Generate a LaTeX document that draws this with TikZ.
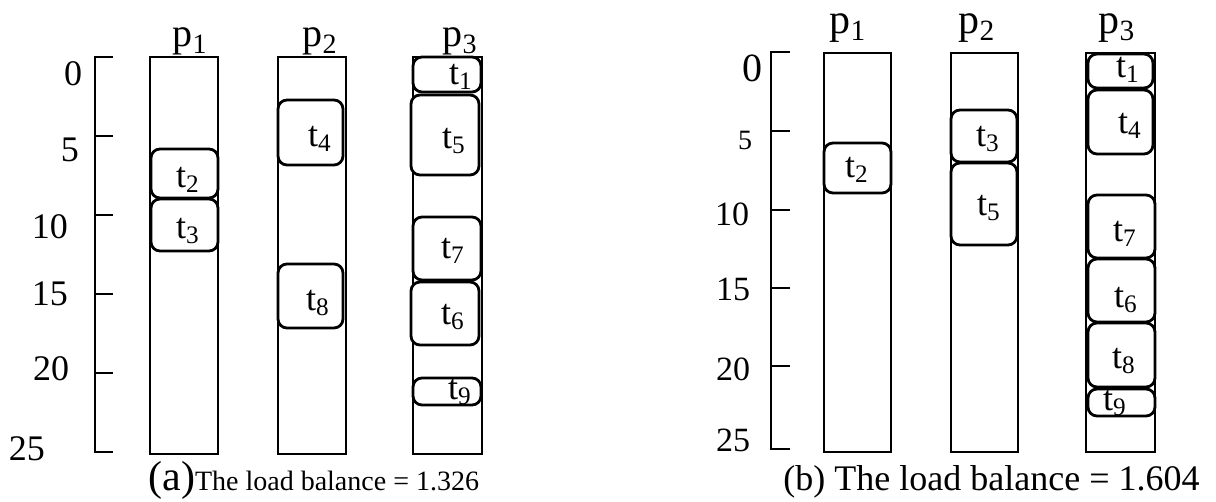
\documentclass[tikz,border=0pt]{standalone}
\usepackage{fontspec}
\setmainfont{Liberation Serif}
\usepackage{tikz}
\newcommand{\fsize}[1]{\fontsize{#1pt}{#1pt}\selectfont}

\begin{document}
\begin{tikzpicture}[
    x=0.5pt, y=-0.5pt,
    proc/.style={draw, line width=1.4pt},
    task/.style={draw, fill=white, line width=1.4pt, rounded corners=4.5pt},
    axis/.style={line width=1.4pt},
    tlab/.style={font=\fsize{18}, inner sep=0pt},
    plab/.style={anchor=base, inner sep=0pt},
    ylab/.style={inner sep=0pt}
]
\useasboundingbox (0,0) rectangle (1216,502);

% (a) time axis
\draw[axis] (113,57) -- (95,57) -- (95,452) -- (113,452);
\foreach \y in {136,215,294,373}
    \draw[axis] (95,\y) -- (113,\y);
\node[ylab, font=\fsize{18}] (a-y0) at (73,74) {0};
\node[ylab, font=\fsize{18}] (a-y5) at (70,150) {5};
\node[ylab, font=\fsize{18}] (a-y10) at (50,227) {10};
\node[ylab, font=\fsize{18}] (a-y15) at (50,294) {15};
\node[ylab, font=\fsize{18}] (a-y20) at (51,369) {20};
\node[ylab, font=\fsize{18}] (a-y25) at (27,449) {25};

% (a) processors
\draw[proc] (150,57) rectangle (218,454);
\draw[proc] (278,57) rectangle (346,454);
\draw[proc] (413,57) rectangle (482,454);
\node[plab, font=\fsize{20}] (a-p1) at (190,47) {p\textsubscript{1}};
\node[plab, font=\fsize{20}] (a-p2) at (320,47) {p\textsubscript{2}};
\node[plab, font=\fsize{20}] (a-p3) at (460,47) {p\textsubscript{3}};

% (a) tasks
\draw[task] (151,149) rectangle (218,198);
\node[tlab] (a-t2) at (188,180) {t\textsubscript{2}};
\draw[task] (151,199) rectangle (218,251);
\node[tlab] (a-t3) at (188,231) {t\textsubscript{3}};
\draw[task] (278,100) rectangle (343,165);
\node[tlab] (a-t4) at (320,139) {t\textsubscript{4}};
\draw[task] (278,264) rectangle (343,328);
\node[tlab] (a-t8) at (318,303) {t\textsubscript{8}};
\draw[task] (413,57) rectangle (481,92);
\node[tlab] (a-t1) at (461,77) {t\textsubscript{1}};
\draw[task] (411,95) rectangle (479,175);
\node[tlab] (a-t5) at (454,141) {t\textsubscript{5}};
\draw[task] (413,217) rectangle (481,280);
\node[tlab] (a-t7) at (453,251) {t\textsubscript{7}};
\draw[task] (411,282) rectangle (479,345);
\node[tlab] (a-t6) at (453,317) {t\textsubscript{6}};
\draw[task] (413,378) rectangle (481,405);
\node[tlab] (a-t9) at (460,392) {t\textsubscript{9}};

\node[anchor=base west, inner sep=0pt] (a-cap) at (148,490)
    {\fsize{21}(a)\fsize{14}The load balance = 1.326};

% (b) time axis
\draw[axis] (790,52) -- (771,52) -- (771,449) -- (790,449);
\foreach \y in {131,210,288,366}
    \draw[axis] (771,\y) -- (790,\y);
\node[ylab, font=\fsize{20}] (b-y0) at (752,68) {0};
\node[ylab, font=\fsize{14}] (b-y5) at (745,140) {5};
\node[ylab, font=\fsize{17}] (b-y10) at (732,214) {10};
\node[ylab, font=\fsize{17}] (b-y15) at (733,289) {15};
\node[ylab, font=\fsize{17}] (b-y20) at (733,369) {20};
\node[ylab, font=\fsize{17}] (b-y25) at (733,440) {25};

% (b) processors
\draw[proc] (824,53) rectangle (891,452);
\draw[proc] (951,53) rectangle (1018,452);
\draw[proc] (1086,53) rectangle (1155,452);
\node[plab, font=\fsize{21}] (b-p1) at (848,34) {p\textsubscript{1}};
\node[plab, font=\fsize{21}] (b-p2) at (977,34) {p\textsubscript{2}};
\node[plab, font=\fsize{21}] (b-p3) at (1117,34) {p\textsubscript{3}};

% (b) tasks
\draw[task] (824,143) rectangle (891,193);
\node[tlab] (b-t2) at (857,170) {t\textsubscript{2}};
\draw[task] (951,110) rectangle (1017,162);
\node[tlab] (b-t3) at (988,139) {t\textsubscript{3}};
\draw[task] (951,163) rectangle (1017,245);
\node[tlab] (b-t5) at (989,208) {t\textsubscript{5}};
\draw[task] (1088,54) rectangle (1153,88);
\node[tlab] (b-t1) at (1128,70) {t\textsubscript{1}};
\draw[task] (1088,90) rectangle (1153,154);
\node[tlab] (b-t4) at (1130,126) {t\textsubscript{4}};
\draw[task] (1088,195) rectangle (1155,258);
\node[tlab] (b-t7) at (1125,234) {t\textsubscript{7}};
\draw[task] (1088,259) rectangle (1155,322);
\node[tlab] (b-t6) at (1126,300) {t\textsubscript{6}};
\draw[task] (1088,323) rectangle (1155,387);
\node[tlab] (b-t8) at (1124,361) {t\textsubscript{8}};
\draw[task] (1088,389) rectangle (1155,416);
\node[tlab] (b-t9) at (1115,403) {t\textsubscript{9}};

\node[anchor=base west, inner sep=0pt] (b-cap) at (783,490)
    {\fsize{18}(b) The load balance = 1.604};

\end{tikzpicture}
\end{document}
